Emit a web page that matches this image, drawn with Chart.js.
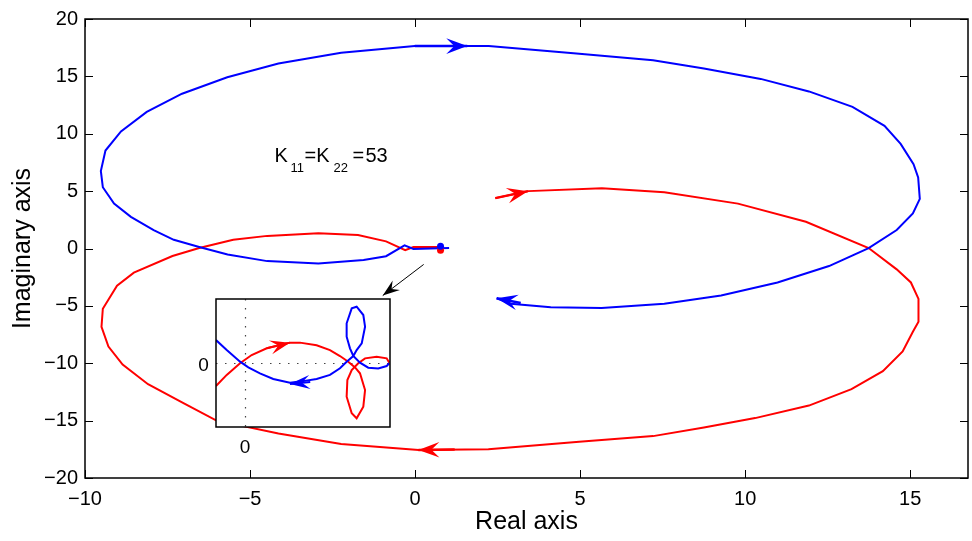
<!DOCTYPE html>
<html>
<head>
<meta charset="utf-8">
<script src="https://cdn.jsdelivr.net/npm/chart.js@4/dist/chart.umd.min.js"></script>
<style>
  html, body { margin: 0; padding: 0; background: #fff; }
  #wrap { position: relative; width: 972px; height: 541px; overflow: hidden; }
  #main { position: absolute; left: 0; top: 0; }
  #inset { position: absolute; left: 190px; top: 290px; }
</style>
</head>
<body>
<div id="wrap">
  <canvas id="main" width="972" height="541"></canvas>
  <canvas id="inset" width="205" height="170"></canvas>
</div>
<script>
// ---- Nyquist loci, K11 = K22 = 53 ----
const realTicks = [-10, -5, 0, 5, 10, 15];
const imagTicks = [-20, -15, -10, -5, 0, 5, 10, 15, 20];

// blue locus (travel: from origin, left, over the top, back along the lower right)
const blueRe = [1.03, 0.75, -0.05, -0.32, -0.88, -1.56, -2.93, -4.48, -5.68, -6.54, -7.31, -7.92, -8.61, -9.12, -9.46, -9.52, -9.38, -8.91, -8.13, -7.06, -5.69, -4.14, -2.24, -0.01, 2.23, 4.80, 7.21, 8.75, 10.47, 11.93, 13.25, 14.22, 14.71, 15.10, 15.24, 15.29, 15.08, 14.59, 13.74, 12.54, 10.98, 9.27, 7.55, 5.65, 4.11, 2.90, 2.47];
const blueIm = [0.04, 0.02, -0.04, 0.28, -0.67, -1.01, -1.30, -1.10, -0.53, 0.13, 0.76, 1.61, 2.76, 3.91, 5.34, 6.76, 8.54, 10.20, 11.91, 13.49, 14.92, 16.12, 17.06, 17.64, 17.64, 17.01, 16.41, 15.69, 14.78, 13.69, 12.34, 10.69, 9.12, 7.34, 6.20, 4.33, 3.05, 1.61, 0.04, -1.53, -2.96, -4.10, -4.82, -5.19, -5.11, -4.82, -4.34];

// red locus (travel: from upper right, around the bottom, back into the origin)
const redRe = [2.43, 3.43, 5.66, 7.55, 9.78, 11.84, 13.74, 14.59, 15.02, 15.25, 15.25, 15.08, 14.77, 14.17, 13.22, 11.93, 10.30, 8.75, 7.21, 4.97, 2.22, 0.11, -2.24, -4.14, -6.03, -7.06, -8.09, -8.86, -9.29, -9.50, -9.46, -9.03, -8.52, -7.35, -6.54, -5.51, -4.48, -2.93, -1.73, -0.88, -0.30, -0.05, 0.75];
const redIm = [4.39, 5.00, 5.25, 4.91, 3.91, 2.33, 0.04, -1.82, -2.96, -4.39, -6.39, -7.25, -8.97, -10.69, -12.26, -13.69, -14.78, -15.60, -16.35, -16.84, -17.49, -17.55, -17.04, -16.12, -14.98, -13.41, -11.83, -10.12, -8.54, -6.82, -5.25, -3.24, -2.10, -0.65, 0.04, 0.76, 1.10, 1.33, 1.18, 0.62, -0.15, 0.13, 0.13];

// end points near the origin
const blueEnd = [0.77, 0.19];
const redEnd = [0.77, -0.15];

// direction arrows on the loci: [tail, tip]
const blueArrows = [[[-0.01, 17.64], [1.58, 17.64]], [[3.2, -4.75], [2.47, -4.34]]];
const redArrows = [[[2.43, 4.39], [3.42, 5.00]], [[1.2, -17.52], [0.10, -17.55]]];

// pointer from the origin region to the zoomed view
const pointerArrow = [[0.26, -1.39], [-0.98, -4.10]];
const gainLabelAt = [-4.26, 7.57];

// zoomed view around the origin
const insetRedRe = [-0.20, -0.126, -0.034, 0.046, 0.150, 0.31, 0.379, 0.494, 0.586, 0.655, 0.712, 0.759, 0.793, 0.828, 0.816, 0.770, 0.736, 0.701, 0.706, 0.736, 0.781, 0.828, 0.908, 0.977, 0.995];
const insetRedIm = [-0.158, -0.082, -0.002, 0.055, 0.101, 0.14, 0.14, 0.122, 0.089, 0.048, 0.009, -0.03, -0.071, -0.186, -0.30, -0.38, -0.346, -0.232, -0.117, -0.048, -0.002, 0.032, 0.043, 0.032, 0.002];
const insetBlueRe = [0.995, 0.977, 0.919, 0.850, 0.793, 0.747, 0.724, 0.701, 0.701, 0.736, 0.770, 0.816, 0.828, 0.805, 0.770, 0.747, 0.701, 0.655, 0.586, 0.494, 0.379, 0.31, 0.195, 0.103, 0.023, -0.034, -0.126, -0.20];
const insetBlueIm = [-0.002, -0.021, -0.037, -0.032, 0.002, 0.048, 0.101, 0.181, 0.273, 0.376, 0.387, 0.33, 0.25, 0.135, 0.089, 0.048, 0.009, -0.036, -0.082, -0.110, -0.128, -0.135, -0.110, -0.071, -0.030, 0.009, 0.089, 0.158];
const insetRedArrow = [[0.15, 0.101], [0.31, 0.14]];
const insetBlueArrow = [[0.45, -0.13], [0.31, -0.144]];

const FONT = "'Liberation Sans', Arial, Helvetica, sans-serif";
const BLUE = '#0000ff', RED = '#ff0000';
const toPts = (re, im) => re.map((x, i) => ({ x: x, y: im[i] }));
const fmt = v => (v < 0 ? '\u2212' + Math.abs(v) : String(v));

function toPx(chart, p) {
  return { x: chart.scales.x.getPixelForValue(p[0]), y: chart.scales.y.getPixelForValue(p[1]) };
}

function arrowHead(ctx, tail, tip, L, W, N, color) {
  const dx = tip.x - tail.x, dy = tip.y - tail.y, d = Math.hypot(dx, dy) || 1;
  const ux = dx / d, uy = dy / d, nx = -uy, ny = ux;
  ctx.beginPath();
  ctx.moveTo(tip.x, tip.y);
  ctx.lineTo(tip.x - L * ux + W * nx, tip.y - L * uy + W * ny);
  ctx.lineTo(tip.x - N * ux, tip.y - N * uy);
  ctx.lineTo(tip.x - L * ux - W * nx, tip.y - L * uy - W * ny);
  ctx.closePath();
  ctx.fillStyle = color;
  ctx.fill();
}

function drawArrow(chart, arrow, color, shaftWidth, L, W, N) {
  const ctx = chart.ctx;
  const a = toPx(chart, arrow[0]), b = toPx(chart, arrow[1]);
  ctx.save();
  ctx.strokeStyle = color;
  ctx.lineWidth = shaftWidth;
  ctx.beginPath();
  ctx.moveTo(a.x, a.y);
  ctx.lineTo(b.x, b.y);
  ctx.stroke();
  arrowHead(ctx, a, b, L, W, N, color);
  ctx.restore();
}

const frameAndMarks = {
  id: 'frameAndMarks',
  afterDatasetsDraw(chart) {
    const ctx = chart.ctx, area = chart.chartArea;
    const xs = chart.scales.x, ys = chart.scales.y;

    blueArrows.forEach(a => drawArrow(chart, a, BLUE, 2.5, 21, 7.8, 13));
    redArrows.forEach(a => drawArrow(chart, a, RED, 2.5, 21, 7.8, 13));
    drawArrow(chart, pointerArrow, '#000', 1, 17, 6, 11);

    // gain annotation with subscripts
    const p = toPx(chart, gainLabelAt);
    ctx.save();
    ctx.fillStyle = '#000';
    ctx.textBaseline = 'alphabetic';
    ctx.textAlign = 'left';
    const big = `20px ${FONT}`, small = `13px ${FONT}`;
    ctx.font = big;   ctx.fillText('K', p.x, p.y);
    ctx.font = small; ctx.fillText('11', p.x + 16, p.y + 10);
    ctx.font = big;   ctx.fillText('=K', p.x + 30, p.y);
    ctx.font = small; ctx.fillText('22', p.x + 59, p.y + 10);
    ctx.font = big;   ctx.fillText('=', p.x + 78, p.y);
    ctx.font = big;   ctx.fillText('53', p.x + 91, p.y);
    ctx.restore();

    // axes box with inward ticks on all sides
    ctx.save();
    ctx.strokeStyle = '#000';
    ctx.lineWidth = 1.5;
    ctx.strokeRect(area.left, area.top, area.right - area.left, area.bottom - area.top);
    ctx.lineWidth = 1;
    const T = 8;
    ctx.beginPath();
    realTicks.forEach(v => {
      const x = Math.round(xs.getPixelForValue(v)) + 0.5;
      ctx.moveTo(x, area.bottom); ctx.lineTo(x, area.bottom - T);
      ctx.moveTo(x, area.top); ctx.lineTo(x, area.top + T);
    });
    imagTicks.forEach(v => {
      const y = Math.round(ys.getPixelForValue(v)) + 0.5;
      ctx.moveTo(area.left, y); ctx.lineTo(area.left + T, y);
      ctx.moveTo(area.right, y); ctx.lineTo(area.right - T, y);
    });
    ctx.stroke();
    ctx.restore();
  }
};

const lineDs = (data, color) => ({
  data: data, showLine: true, borderColor: color, borderWidth: 2,
  pointRadius: 0, tension: 0, fill: false
});
const dotDs = (p, color) => ({
  data: [{ x: p[0], y: p[1] }], showLine: false, pointRadius: 3.5,
  pointBackgroundColor: color, pointBorderColor: color, pointBorderWidth: 0
});

new Chart(document.getElementById('main'), {
  type: 'scatter',
  data: {
    datasets: [
      dotDs(blueEnd, BLUE),
      dotDs(redEnd, RED),
      lineDs(toPts(blueRe, blueIm), BLUE),
      lineDs(toPts(redRe, redIm), RED)
    ]
  },
  options: {
    responsive: false,
    animation: false,
    devicePixelRatio: 1,
    layout: { padding: { top: 12, right: 2, left: 0, bottom: 0 } },
    plugins: { legend: { display: false }, tooltip: { enabled: false } },
    scales: {
      x: {
        type: 'linear', min: -10, max: 16.75,
        afterBuildTicks: s => { s.ticks = realTicks.map(v => ({ value: v })); },
        afterFit: s => { s.height = 63; },
        grid: { display: false, drawTicks: false, tickLength: 0 }, border: { display: false },
        ticks: { color: '#000', padding: 9, font: { family: FONT, size: 20 }, callback: v => fmt(v), maxRotation: 0 },
        title: { display: true, text: 'Real axis', color: '#000', font: { family: FONT, size: 25 }, padding: { top: 0, bottom: 4 } }
      },
      y: {
        type: 'linear', min: -20, max: 20,
        afterBuildTicks: s => { s.ticks = imagTicks.map(v => ({ value: v })); },
        afterFit: s => { s.width = 85; },
        grid: { display: false, drawTicks: false, tickLength: 0 }, border: { display: false },
        ticks: { color: '#000', padding: 7, font: { family: FONT, size: 20 }, callback: v => fmt(v) },
        title: { display: true, text: 'Imaginary axis', color: '#000', font: { family: FONT, size: 25 }, padding: { top: 8, bottom: 0 } }
      }
    }
  },
  plugins: [frameAndMarks]
});

// zoomed view of the origin region
const insetDecor = {
  id: 'insetDecor',
  beforeDatasetsDraw(chart) {
    const ctx = chart.ctx, a = chart.chartArea;
    const x0 = chart.scales.x.getPixelForValue(0), y0 = chart.scales.y.getPixelForValue(0);
    ctx.save();
    ctx.fillStyle = '#fff';
    ctx.fillRect(a.left, a.top, a.right - a.left, a.bottom - a.top);
    ctx.strokeStyle = '#444';
    ctx.lineWidth = 1.2;
    ctx.setLineDash([1.5, 7.5]);
    ctx.beginPath();
    ctx.moveTo(Math.round(x0) + 0.5, a.top); ctx.lineTo(Math.round(x0) + 0.5, a.bottom);
    ctx.moveTo(a.left, Math.round(y0) + 0.5); ctx.lineTo(a.right, Math.round(y0) + 0.5);
    ctx.stroke();
    ctx.restore();
  },
  afterDatasetsDraw(chart) {
    const ctx = chart.ctx, a = chart.chartArea;
    const x0 = chart.scales.x.getPixelForValue(0), y0 = chart.scales.y.getPixelForValue(0);
    drawArrow(chart, insetRedArrow, RED, 2, 20, 7, 12);
    drawArrow(chart, insetBlueArrow, BLUE, 2, 20, 7, 12);
    ctx.save();
    ctx.strokeStyle = '#000';
    ctx.lineWidth = 1.5;
    ctx.strokeRect(a.left, a.top, a.right - a.left, a.bottom - a.top);
    ctx.fillStyle = '#000';
    ctx.font = `19px ${FONT}`;
    ctx.textAlign = 'center';
    ctx.textBaseline = 'alphabetic';
    ctx.fillText('0', a.left - 12.5, y0 + 7.5);
    ctx.fillText('0', x0, a.bottom + 26);
    ctx.restore();
  }
};

new Chart(document.getElementById('inset'), {
  type: 'scatter',
  data: {
    datasets: [
      lineDs(toPts(insetBlueRe, insetBlueIm), BLUE),
      lineDs(toPts(insetRedRe, insetRedIm), RED)
    ]
  },
  options: {
    responsive: false,
    animation: false,
    devicePixelRatio: 1,
    layout: { padding: { left: 26, top: 9, right: 5, bottom: 33 } },
    plugins: { legend: { display: false }, tooltip: { enabled: false } },
    scales: {
      x: { type: 'linear', min: -0.2, max: 1.0, display: false },
      y: { type: 'linear', min: -0.44, max: 0.44, display: false }
    }
  },
  plugins: [insetDecor]
});
</script>
</body>
</html>
